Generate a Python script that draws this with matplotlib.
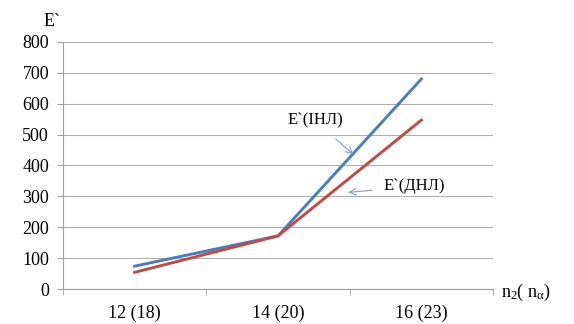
import matplotlib
matplotlib.use("Agg")
import matplotlib.pyplot as plt

categories = ["12 (18)", "14 (20)", "16 (23)"]
e_inl = [74, 172, 680]
e_dnl = [54, 172, 547]
yticks = [0, 100, 200, 300, 400, 500, 600, 700, 800]

plt.rcParams['font.family'] = ['Liberation Serif', 'DejaVu Serif']
plt.rcParams['mathtext.fontset'] = 'custom'
plt.rcParams['mathtext.rm'] = 'Liberation Serif'
plt.rcParams['mathtext.it'] = 'Liberation Serif'

fig = plt.figure(figsize=(5.74, 3.24), dpi=100)
ax = fig.add_axes([63/574, 1-289/324, 430/574, (289-42)/324])

x = list(range(len(categories)))
ax.plot(x, e_inl, color='#4a7ebb', lw=2.1, zorder=3)
ax.plot(x, e_dnl, color='#be4b48', lw=2.1, zorder=3)

ax.set_xlim(-0.5, len(categories) - 0.5)
ax.set_ylim(0, 800)
ax.set_yticks(yticks)
ax.set_yticklabels([str(v) for v in yticks], fontsize=13)
ax.set_xticks(x)
ax.set_xticklabels(categories, fontsize=13)
ax.set_xticks([i - 0.5 for i in range(len(categories) + 1)], minor=True)
ax.tick_params(axis='x', which='major', length=0, pad=11)
ax.tick_params(axis='x', which='minor', length=4, color='#a0a0a0')
ax.tick_params(axis='y', length=4, color='#a0a0a0', pad=6)
ax.grid(axis='y', color='#b0b0b0', lw=0.8)
ax.set_axisbelow(True)
for s in ['top', 'right']:
    ax.spines[s].set_visible(False)
for s in ['left', 'bottom']:
    ax.spines[s].set_color('#a0a0a0')
    ax.spines[s].set_linewidth(0.8)

fig.text(52/574, 1-21/324, "E`", fontsize=13, ha='center', va='center')
fig.text(526/574, 1-292/324, r"n$_\mathrm{2}$( n$_\mathrm{\alpha}$)", fontsize=13,
         ha='center', va='center')

ax.annotate("E`(IНЛ)", xy=(1.54, 430), xytext=(1.26, 545),
            fontsize=12, ha='center', va='center',
            arrowprops=dict(arrowstyle='->', color='#7f9fcf', lw=0.8, shrinkA=8))
ax.annotate("E`(ДНЛ)", xy=(1.47, 312), xytext=(1.95, 332),
            fontsize=12, ha='center', va='center',
            arrowprops=dict(arrowstyle='->', color='#7f9fcf', lw=0.8, shrinkA=6))

fig.savefig("out.png", dpi=100)
